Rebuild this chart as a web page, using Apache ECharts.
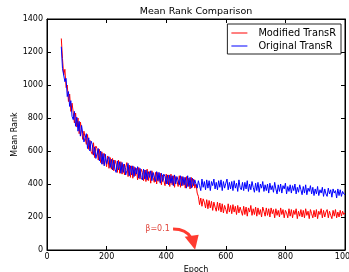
<!DOCTYPE html>
<html>
<head>
<meta charset="utf-8">
<script src="https://cdn.jsdelivr.net/npm/echarts@6/dist/echarts.min.js"></script>
<style>
html,body{margin:0;padding:0;background:#fff;}
#c{width:349px;height:272px;}
</style>
</head>
<body>
<div id="c"></div>
<script>
// Epochs sampled every 4 from 48 to 1000
var epochStart = 48, epochStep = 4;
var modifiedTransR = [
1282,1160,1060,1095,985,1000,900,945,840,890,
835,770,830,745,800,705,775,730,670,720,
715,640,700,610,665,595,580,650,560,630,
615,545,610,530,595,520,585,555,505,570,
495,560,490,555,480,545,520,470,545,465,
535,460,520,455,500,530,445,515,440,510,
435,505,450,495,425,500,430,490,470,420,
485,415,490,420,475,405,480,440,410,470,
400,470,415,465,395,455,420,390,460,400,
455,385,460,395,450,380,445,420,385,450,
380,445,390,440,375,445,385,435,370,440,380,430,375,
400,345,325,275,315,265,310,290,255,305,
250,300,255,295,240,290,260,235,290,240,
285,230,280,225,270,245,220,280,230,270,
220,275,230,265,215,270,225,260,250,210,
265,215,260,205,255,230,270,210,250,215,
260,205,255,215,245,200,260,235,205,255,
210,250,200,255,220,245,195,250,210,240,
200,255,215,245,195,240,225,195,250,205,
245,195,240,215,250,190,235,205,245,200,
240,195,250,210,235,190,245,220,195,240,
200,245,190,235,215,250,195,240,200,230,
245,195,235,210,190,240,205,245,195,230,
200,240,205,235,215,225
];
var originalTransR = [
1232,1100,1110,1020,1040,930,960,870,905,810,
790,840,750,805,720,780,690,755,705,655,
650,705,615,680,600,660,640,575,625,555,
555,615,540,600,520,585,510,580,520,550,
565,500,550,485,545,490,470,540,485,535,
465,530,470,520,455,480,525,450,510,455,
510,445,500,460,505,435,495,440,425,490,
430,485,425,475,440,480,420,470,480,415,
475,420,470,405,465,415,460,445,400,455,
395,455,405,450,390,455,400,445,455,395,
450,390,445,395,440,375,450,385,440,375,435,390,425,
425,375,420,390,360,430,380,415,365,425,
375,420,360,415,390,430,370,410,365,420,
380,425,360,415,375,405,430,365,410,370,
415,360,420,375,405,355,425,380,365,410,
360,410,370,420,355,400,365,415,380,350,
405,360,410,350,400,375,415,355,395,360,
400,345,405,365,390,350,410,370,340,395,
355,400,345,390,370,405,340,385,355,395,
345,390,360,400,340,380,350,395,365,335,
385,345,395,335,375,355,390,340,380,330,
370,340,385,330,365,345,380,325,370,340,
325,375,340,365,320,370,345,360,315,370,
330,365,325,355,340,335
];
var seriesNames = ['Modified TransR', 'Original TransR'];
var xTicks = [0, 200, 400, 600, 800, 1000];
var yTicks = [0, 200, 400, 600, 800, 1000, 1200, 1400];

// annotation in data coordinates
var annotation = {
  label: 'β=0.1',
  textAt: [371, 130],
  curve: [[423, 127], [467, 127], [484, 73]],
  head: [[462, 80], [509, 92], [497, 2]]
};

function pairs(arr) {
  return arr.map(function (v, i) { return [epochStart + i * epochStep, v]; });
}

var font = 'DejaVu Sans';
var chart = echarts.init(document.getElementById('c'), null, {renderer: 'canvas'});
var tickStyle = {show: true, inside: true, length: 4, lineStyle: {color: '#000', width: 1}};
var axisLine = {show: true, onZero: false, lineStyle: {color: '#000', width: 1}};
chart.setOption({
  animation: false,
  backgroundColor: '#fff',
  title: {
    text: 'Mean Rank Comparison',
    left: 196, top: 7, textAlign: 'center', padding: 0,
    textStyle: {fontFamily: font, fontSize: 9.5, fontWeight: 'normal', color: '#000'}
  },
  legend: {
    orient: 'vertical',
    right: 8, top: 24,
    data: seriesNames,
    icon: 'rect', itemWidth: 16, itemHeight: 1,
    itemGap: 3,
    padding: [4, 5, 3, 4],
    borderColor: '#222', borderWidth: 1, borderRadius: 0,
    textStyle: {fontFamily: font, fontSize: 9.8, color: '#000', padding: [0, 0, 0, 6]}
  },
  grid: {left: 47, right: 4, top: 19, bottom: 22, show: true, borderColor: '#000', borderWidth: 1,
         containLabel: false, outerBoundsMode: 'none'},
  xAxis: [{
    type: 'value', min: 0, max: 1000, interval: 200,
    name: 'Epoch', nameLocation: 'middle', nameGap: 14,
    nameTextStyle: {fontFamily: font, fontSize: 8, color: '#000'},
    axisLine: axisLine, axisTick: tickStyle,
    axisLabel: {fontFamily: font, fontSize: 8, color: '#000', margin: 3, formatter: function (v) { return String(v); }},
    splitLine: {show: false}
  }, {
    type: 'value', min: 0, max: 1000, interval: 200, position: 'top',
    axisLine: axisLine, axisTick: tickStyle, axisLabel: {show: false}, splitLine: {show: false}
  }],
  yAxis: [{
    type: 'value', min: 0, max: 1400, interval: 200,
    name: 'Mean Rank', nameLocation: 'middle', nameGap: 28, nameRotate: 90, nameMoveOverlap: false,
    nameTextStyle: {fontFamily: font, fontSize: 8, color: '#000'},
    axisLine: axisLine, axisTick: tickStyle,
    axisLabel: {fontFamily: font, fontSize: 8, color: '#000', margin: 4, formatter: function (v) { return String(v); }},
    splitLine: {show: false}
  }, {
    type: 'value', min: 0, max: 1400, interval: 200, position: 'right',
    axisLine: axisLine, axisTick: tickStyle, axisLabel: {show: false}, splitLine: {show: false}
  }],
  series: [{
    name: seriesNames[0], type: 'line', showSymbol: false, symbol: 'none',
    data: pairs(modifiedTransR),
    itemStyle: {color: '#ff0000'},
    lineStyle: {color: '#ff0000', width: 1}
  }, {
    name: seriesNames[1], type: 'line', showSymbol: false, symbol: 'none',
    data: pairs(originalTransR),
    itemStyle: {color: '#0000ff'},
    lineStyle: {color: '#0000ff', width: 1}
  }]
});

function px(p) { return chart.convertToPixel({gridIndex: 0}, p); }
var t = px(annotation.textAt);
var c0 = px(annotation.curve[0]), c1 = px(annotation.curve[1]), c2 = px(annotation.curve[2]);
var h = annotation.head.map(px);
chart.setOption({
  graphic: [{
    type: 'text', x: t[0], y: t[1],
    style: {text: annotation.label, fill: '#e0463c', font: '8px "DejaVu Sans"', textAlign: 'center', textVerticalAlign: 'middle'}
  }, {
    type: 'bezierCurve',
    shape: {x1: c0[0], y1: c0[1], cpx1: c1[0], cpy1: c1[1], x2: c2[0], y2: c2[1]},
    style: {stroke: '#ff3b30', lineWidth: 3, fill: null}
  }, {
    type: 'polygon',
    shape: {points: h},
    style: {fill: '#ff3b30'}
  }]
});
</script>
</body>
</html>
